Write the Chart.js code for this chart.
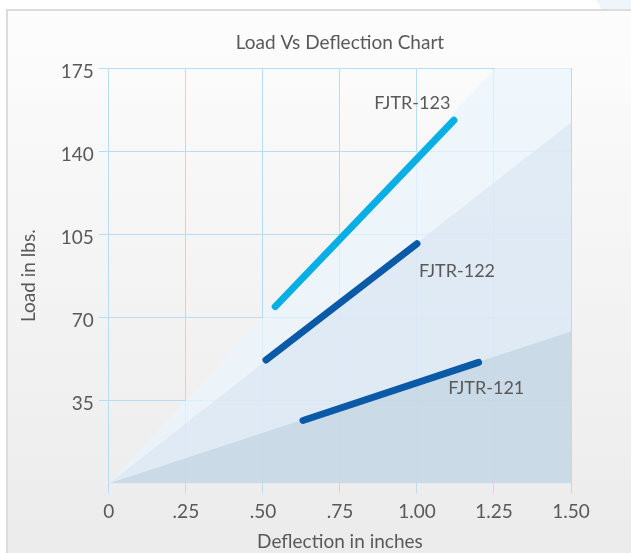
<!DOCTYPE html>
<html>
<head>
<meta charset="utf-8">
<script src="https://cdn.jsdelivr.net/npm/chart.js@4.4.1/dist/chart.umd.min.js"></script>
<style>
  html, body { margin: 0; padding: 0; background: #fff; }
  #page { position: relative; width: 631px; height: 553px; overflow: hidden; }
  #corner { position: absolute; left: 596px; top: 0; width: 40px; height: 10px;
            background: #eef5fb; clip-path: polygon(0 0, 100% 0, 100% 100%, 6px 100%); }
  #card { position: absolute; left: 6px; top: 9px; width: 640px; height: 560px;
          border-top: 2px solid #dcdcdc; border-left: 2px solid #dcdcdc;
          background: linear-gradient(#fdfdfd, #f4f4f4 45%, #ebebeb); }
  #wrap { position: absolute; left: 0; top: 0; width: 631px; height: 553px; }
</style>
</head>
<body>
<div id="page">
  <div id="corner"></div>
  <div id="card"></div>
  <div id="wrap"><canvas id="chart"></canvas></div>
</div>
<script>
// Dados do grafico
var chartTitle = "Load Vs Deflection Chart";
var xTitle = "Deflection in inches";
var yTitle = "Load in lbs.";
var xTickLabels = ["0", ".25", ".50", ".75", "1.00", "1.25", "1.50"];
var yTickLabels = ["", "35", "70", "105", "140", "175"];

var seriesNames = ["FJTR-123", "FJTR-122", "FJTR-121"];
var fjtr123 = [{x: 0.54, y: 74.5}, {x: 1.12, y: 153}];
var fjtr122 = [{x: 0.51, y: 52}, {x: 1.00, y: 101}];
var fjtr121 = [{x: 0.63, y: 26.5}, {x: 1.20, y: 51}];
// onde cada nome aparece (em unidades do grafico)
var labelAt = [{x: 0.985, y: 160}, {x: 1.13, y: 89.5}, {x: 1.225, y: 40}];

// faixas sombreadas a partir da origem
var bandLight = [{x: 0, y: 0}, {x: 1.254, y: 175}, {x: 1.5, y: 175}];
var bandMid = [{x: 0, y: 0}, {x: 1.5, y: 152}];
var bandDark = [{x: 0, y: 0}, {x: 1.5, y: 64}];

var textColor = "#595959";
var gridColor = "#b6ddf5";
var fontFamily = "Lato, 'Open Sans', sans-serif";

// Desenha o titulo e os nomes das series
var textPlugin = {
  id: "textos",
  afterDatasetsDraw: function(chart) {
    var ctx = chart.ctx;
    var area = chart.chartArea;
    var xs = chart.scales.x, ys = chart.scales.y;
    ctx.save();
    ctx.fillStyle = textColor;
    ctx.textAlign = "center";
    ctx.textBaseline = "middle";
    ctx.font = "19px " + fontFamily;
    ctx.fillText(chartTitle, (area.left + area.right) / 2, 43);
    ctx.font = "18px " + fontFamily;
    for (var i = 0; i < seriesNames.length; i++) {
      ctx.fillText(seriesNames[i], xs.getPixelForValue(labelAt[i].x), ys.getPixelForValue(labelAt[i].y));
    }
    ctx.restore();
  }
};

// order maior = desenhado antes
function band(data, color, order) {
  return {
    data: data, fill: "origin", backgroundColor: color, borderWidth: 0,
    pointRadius: 0, tension: 0, order: order
  };
}
function serie(label, data, color) {
  return {
    label: label, data: data, borderColor: color, borderWidth: 7,
    borderCapStyle: "round", pointRadius: 0, fill: false, tension: 0, order: 1
  };
}

new Chart(document.getElementById("chart"), {
  type: "line",
  data: {
    datasets: [
      band(bandLight, "rgba(234,245,254,0.7)", 7),
      band(bandMid, "rgba(216,229,241,0.7)", 6),
      band(bandDark, "rgba(192,211,223,0.7)", 5),
      serie(seriesNames[0], fjtr123, "#07afe5"),
      serie(seriesNames[1], fjtr122, "#0b5aa8"),
      serie(seriesNames[2], fjtr121, "#0b5aa8")
    ]
  },
  options: {
    responsive: true,
    maintainAspectRatio: false,
    animation: false,
    layout: { padding: { left: 17, right: 60, top: 68, bottom: 0 } },
    plugins: { legend: { display: false }, tooltip: { enabled: false } },
    scales: {
      x: {
        type: "linear", min: 0, max: 1.5,
        border: { display: false },
        grid: { color: gridColor, tickLength: 10 },
        ticks: {
          stepSize: 0.25, color: textColor, padding: 7,
          font: { family: fontFamily, size: 19 },
          callback: function(v, i) { return xTickLabels[i]; }
        },
        title: {
          display: true, text: xTitle, color: textColor,
          font: { family: fontFamily, size: 19 }, padding: { top: 0, bottom: 0 }
        }
      },
      y: {
        min: 0, max: 175,
        border: { display: false },
        grid: {
          tickLength: 10,
          color: function(c) { return c.tick && c.tick.value === 0 ? "rgba(0,0,0,0)" : gridColor; }
        },
        ticks: {
          stepSize: 35, color: textColor, padding: 5, labelOffset: 4,
          font: { family: fontFamily, size: 19 },
          callback: function(v, i) { return yTickLabels[i]; }
        },
        title: {
          display: true, text: yTitle, color: textColor,
          font: { family: fontFamily, size: 19 }, padding: { top: 0, bottom: 16 }
        }
      }
    }
  },
  plugins: [textPlugin]
});
</script>
</body>
</html>
